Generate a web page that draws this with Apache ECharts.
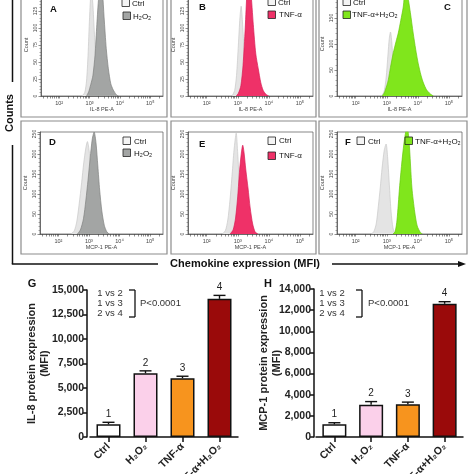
<!DOCTYPE html>
<html><head><meta charset="utf-8">
<script src="https://cdn.jsdelivr.net/npm/echarts@6/dist/echarts.min.js"></script>
<style>html,body{margin:0;padding:0;background:#fff}#c{width:474px;height:474px}</style>
</head><body><div id="c"></div>
<script>
// ---------- DATA ----------
// Flow cytometry histograms: [log10(fluorescence), count]
const ctrlA = [[2.75,0],[2.84,5],[2.9,22],[2.95,60],[3.0,115],[3.05,150],[3.1,140],[3.15,100],[3.2,60],[3.25,30],[3.3,12],[3.4,3],[3.5,0]];
const h2o2A = [[2.9,0],[2.97,6],[3.04,17],[3.11,30],[3.18,60],[3.24,105],[3.3,145],[3.36,165],[3.42,155],[3.48,115],[3.55,70],[3.62,40],[3.7,18],[3.78,9],[3.88,2],[3.95,0]];
const ctrlB = [[2.82,0],[2.9,8],[2.96,30],[3.02,75],[3.07,115],[3.11,132],[3.15,110],[3.2,70],[3.25,35],[3.3,12],[3.4,3],[3.5,0]];
const tnfB  = [[2.95,0],[3.02,4],[3.1,15],[3.17,45],[3.24,100],[3.3,155],[3.36,175],[3.42,155],[3.5,105],[3.58,62],[3.66,40],[3.74,20],[3.82,8],[3.92,2],[4.0,0]];
const ctrlC = [[2.85,0],[2.92,10],[2.98,35],[3.04,80],[3.08,110],[3.12,123],[3.16,105],[3.2,70],[3.26,35],[3.32,10],[3.4,0]];
const bothC = [[2.85,0],[2.92,6],[3.0,20],[3.05,31],[3.12,55],[3.21,83],[3.3,105],[3.37,121],[3.45,145],[3.53,171],[3.6,205],[3.68,190],[3.76,160],[3.85,121],[3.93,90],[4.01,63],[4.1,40],[4.18,25],[4.28,12],[4.4,4],[4.5,0]];
const ctrlD = [[2.42,0],[2.52,8],[2.6,30],[2.68,75],[2.76,128],[2.83,178],[2.9,216],[2.95,231],[3.0,212],[3.06,165],[3.12,110],[3.2,55],[3.3,18],[3.4,4],[3.5,0]];
const h2o2D = [[2.62,0],[2.72,10],[2.82,38],[2.9,85],[2.97,135],[3.04,190],[3.11,238],[3.17,255],[3.23,228],[3.29,170],[3.35,110],[3.42,58],[3.5,22],[3.58,6],[3.66,0]];
const ctrlE = [[2.5,0],[2.6,8],[2.68,35],[2.75,85],[2.82,150],[2.88,210],[2.95,252],[3.0,200],[3.05,130],[3.12,65],[3.2,25],[3.3,6],[3.4,0]];
const tnfE  = [[2.75,0],[2.85,10],[2.93,40],[3.0,95],[3.06,160],[3.12,205],[3.16,222],[3.2,205],[3.26,160],[3.33,115],[3.4,65],[3.48,25],[3.56,5],[3.65,0]];
const ctrlF = [[2.5,0],[2.58,5],[2.66,25],[2.73,70],[2.79,115],[2.85,165],[2.92,210],[2.98,225],[3.03,190],[3.09,115],[3.14,55],[3.2,15],[3.26,3],[3.32,0]];
const bothF = [[3.2,0],[3.27,6],[3.33,35],[3.41,115],[3.48,175],[3.55,225],[3.61,255],[3.66,265],[3.72,230],[3.81,115],[3.9,55],[3.98,20],[4.08,4],[4.15,0]];

const decadeLabels = {2:'10²',3:'10³',4:'10⁴',5:'10⁵'};

// Bar charts
const barCats = ['Ctrl','H₂O₂','TNF-α','TNF-α+H₂O₂'];
const il8Vals = [1300, 6500, 6000, 14100];
const il8Err  = [200, 250, 200, 350];
const mcpVals = [1200, 3050, 3100, 12600];
const mcpErr  = [150, 300, 200, 200];
const barColors = ['#ffffff','#fbd0ea','#f7941e','#9a0a0a'];
const statLines = ['1 vs 2','1 vs 3','2 vs 4'];
const statText = 'P<0.0001';

// ---------- STYLE / LAYOUT ----------
const F = 'Liberation Sans, Arial, DejaVu Sans, sans-serif';
const CTRL_FILL = '#e4e4e4', CTRL_EDGE = '#c8c8c8';
const GRAY_FILL = '#a3a5a4', GRAY_EDGE = '#7f8180';
const RED_FILL = '#ef3168', RED_EDGE = '#d81c55';
const GREEN_FILL = '#80e61c', GREEN_EDGE = '#66c80c';

const minorTicks = [];
for (let n = 1; n <= 5; n++) for (let k = 1; k <= 9; k++) {
  const v = n + Math.log10(k);
  if (v >= 1.4 && v <= 5.42) minorTicks.push(v);
}

const histGrids = [
  {left:41, top:-6, width:122, height:102},
  {left:188, top:-6, width:125, height:102},
  {left:337, top:-8, width:125, height:104},
  {left:40, top:132, width:123, height:102},
  {left:188, top:132, width:125, height:102},
  {left:337, top:132, width:125, height:102}
];
const histYMax = [150,150,200,255,255,255];
const histYInt = [25,25,50,50,50,50];
const histXName = ['IL-8 PE-A','IL-8 PE-A','IL-8 PE-A','MCP-1 PE-A','MCP-1 PE-A','MCP-1 PE-A'];
const histSeries = [
  [ctrlA, h2o2A, GRAY_FILL, GRAY_EDGE],
  [ctrlB, tnfB, RED_FILL, RED_EDGE],
  [ctrlC, bothC, GREEN_FILL, GREEN_EDGE],
  [ctrlD, h2o2D, GRAY_FILL, GRAY_EDGE],
  [ctrlE, tnfE, RED_FILL, RED_EDGE],
  [ctrlF, bothF, GREEN_FILL, GREEN_EDGE]
];

const grids = [], xAxes = [], yAxes = [], series = [];
histGrids.forEach((g, i) => {
  grids.push(Object.assign({show:true, borderColor:'#555', borderWidth:0.7, backgroundColor:'#fff', outerBoundsMode:'none', containLabel:false}, g));
  xAxes.push({
    type:'value', gridIndex:i, min:1.4, max:5.42,
    name: histXName[i], nameLocation:'middle', nameGap:10, nameMoveOverlap:false,
    nameTextStyle:{fontSize:5.5, fontFamily:F, color:'#444'},
    axisLine:{show:true, lineStyle:{color:'#444', width:0.7}},
    axisTick:{show:true, length:2.5, lineStyle:{color:'#444', width:0.6}, customValues:minorTicks},
    axisLabel:{show:true, customValues:[2,3,4,5], fontSize:5.5, color:'#444', fontFamily:F, margin:4,
      formatter: v => decadeLabels[Math.round(v)] || ''},
    splitLine:{show:false}
  });
  yAxes.push({
    type:'value', gridIndex:i, min:0, max:histYMax[i], interval:histYInt[i],
    name:'Count', nameLocation:'middle', nameGap:12, nameMoveOverlap:false,
    nameTextStyle:{fontSize:5.5, fontFamily:F, color:'#444'},
    axisLine:{show:true, lineStyle:{color:'#444', width:0.7}},
    axisTick:{show:true, length:2.5, lineStyle:{color:'#444', width:0.6}},
    minorTick:{show:true, splitNumber:5, length:1.5, lineStyle:{color:'#555', width:0.5}},
    axisLabel:{show:true, rotate:90, fontSize:5, color:'#444', fontFamily:F, margin:3,
      formatter: v => (v === 0 ? '0' : String(v))},
    splitLine:{show:false}
  });
  const [c, t, fill, edge] = histSeries[i];
  series.push({type:'line', xAxisIndex:i, yAxisIndex:i, data:c, showSymbol:false, smooth:0.25,
    lineStyle:{color:CTRL_EDGE, width:0.7}, areaStyle:{color:CTRL_FILL, opacity:1}, z:2, silent:true});
  series.push({type:'line', xAxisIndex:i, yAxisIndex:i, data:t, showSymbol:false, smooth:0.25,
    lineStyle:{color:edge, width:0.7}, areaStyle:{color:fill, opacity:1}, z:3, silent:true});
});

// Bar chart grids
const barDefs = [
  {left:90, top:290, width:148, height:147, max:15000, interval:2500, vals:il8Vals, err:il8Err, name:'IL-8 protein expression\n(MFI)', off:3, gap:36},
  {left:316, top:289, width:147, height:148, max:14000, interval:2000, vals:mcpVals, err:mcpErr, name:'MCP-1 protein expression\n(MFI)', off:2, gap:31}
];
barDefs.forEach((b, j) => {
  const gi = 6 + j;
  grids.push({left:b.left, top:b.top, width:b.width, height:b.height, outerBoundsMode:'none', containLabel:false});
  xAxes.push({
    type:'category', gridIndex:gi, data:barCats,
    axisLine:{show:true, lineStyle:{color:'#111', width:1.5}},
    axisTick:{show:true, alignWithLabel:true, length:5, lineStyle:{color:'#111', width:1.5}},
    axisLabel:{rotate:45, fontSize:10.5, fontWeight:'bold', color:'#222', fontFamily:F, margin:8, interval:0}
  });
  yAxes.push({
    type:'value', gridIndex:gi, min:0, max:b.max, interval:b.interval, offset:b.off,
    name:b.name, nameLocation:'middle', nameGap:b.gap, nameMoveOverlap:false,
    nameTextStyle:{fontSize:11, fontWeight:'bold', color:'#222', fontFamily:F, lineHeight:13},
    axisLine:{show:true, lineStyle:{color:'#111', width:1.5}},
    axisTick:{show:true, length:4, lineStyle:{color:'#111', width:1.5}},
    axisLabel:{fontSize:10.5, fontWeight:'bold', color:'#222', fontFamily:F, margin:3,
      formatter: v => v.toLocaleString('en-US')},
    splitLine:{show:false}
  });
  series.push({
    type:'bar', xAxisIndex:gi, yAxisIndex:gi, barWidth:24,
    data: b.vals.map((v, k) => ({value:v, itemStyle:{color:barColors[k], borderColor:'#111', borderWidth:1.5}})),
    z:2, silent:true
  });
  series.push({
    type:'custom', xAxisIndex:gi, yAxisIndex:gi, z:5, silent:true,
    data: b.vals.map((v, k) => [k, v, b.err[k]]),
    encode:{x:0, y:1},
    renderItem:(params, api) => {
      const k = api.value(0), v = api.value(1), e = api.value(2);
      const base = api.coord([k, v]);
      const top = api.coord([k, v + e]);
      return {type:'group', children:[
        {type:'line', shape:{x1:base[0], y1:base[1], x2:base[0], y2:top[1]}, style:{stroke:'#111', lineWidth:1.4}},
        {type:'line', shape:{x1:base[0]-6, y1:top[1], x2:base[0]+6, y2:top[1]}, style:{stroke:'#111', lineWidth:1.4}},
        {type:'text', x:base[0], y:top[1]-3, style:{text:String(k+1), align:'center', verticalAlign:'bottom',
          font:'10px ' + F, fill:'#222'}}
      ]};
    }
  });
});

// ---------- Annotations ----------
const gfx = [];
function rect(x,y,w,h){ gfx.push({type:'rect', shape:{x,y,width:w,height:h}, style:{fill:null, stroke:'#8c8c8c', lineWidth:1.2}, z:0}); }
rect(21,-5,146,122); rect(171,-5,145,122); rect(319,-5,148,122);
rect(21,121,146,133); rect(171,121,145,133); rect(319,121,148,133);

function txt(text, x, y, font, opts){ gfx.push(Object.assign({type:'text', x, y, style:Object.assign({text, font, fill:'#111', align:'left', verticalAlign:'middle'}, opts||{}), z:20})); }
function box(x,y,fill){ gfx.push({type:'rect', shape:{x,y,width:7.5,height:7.5}, style:{fill, stroke:'#222', lineWidth:0.8}, z:20}); }

// panel letters
const PL = 'bold 9.5px ' + F;
txt('A', 50, 9, PL); txt('B', 199, 7, PL); txt('C', 444, 7, PL);
txt('D', 49, 142, PL); txt('E', 199, 144, PL); txt('F', 345, 142, PL);

const LF = '8px ' + F;
// A legend
box(122,-1,'#f4f4f4'); txt('Ctrl',132,4,LF);
box(123,12,GRAY_FILL); txt('H₂O₂',133,17,LF);
// B
box(268,-2,'#f4f4f4'); txt('Ctrl',278,3,LF);
box(268,11,RED_FILL); txt('TNF-α',279,15,LF);
// C
box(343,-2,'#f4f4f4'); txt('Ctrl',353,3,LF);
box(343,11,GREEN_FILL); txt('TNF-α+H₂O₂',352,15,LF);
// D
box(123,137,'#f4f4f4'); txt('Ctrl',134,142,LF);
box(123,149,GRAY_FILL); txt('H₂O₂',134,154,LF);
// E
box(268,137,'#f4f4f4'); txt('Ctrl',279,141,LF);
box(268,152,RED_FILL); txt('TNF-α',279,156,LF);
// F
box(357,137,'#f4f4f4'); txt('Ctrl',368,142,LF);
box(405,137,GREEN_FILL); txt('TNF-α+H₂O₂',415,142,LF);

// Counts bracket and MFI arrow
function line(x1,y1,x2,y2,w){ gfx.push({type:'line', shape:{x1,y1,x2,y2}, style:{stroke:'#111', lineWidth:w||1.5}, z:20}); }
line(12.5,0,12.5,82); line(12.5,145,12.5,264); line(11.8,264,158,264);
line(332,264,459,264);
gfx.push({type:'polygon', shape:{points:[[458,261],[466,264],[458,267]]}, style:{fill:'#111'}, z:20});
gfx.push({type:'text', x:10, y:113, rotation:Math.PI/2, style:{text:'Counts', font:'bold 11px ' + F, fill:'#111', align:'center', verticalAlign:'middle'}, z:20});
txt('Chemokine expression (MFI)', 245, 264, 'bold 11px ' + F, {align:'center'});

// G / H labels and stats brackets
txt('G', 32, 284, 'bold 11px ' + F, {align:'center'});
txt('H', 268, 284, 'bold 11px ' + F, {align:'center'});
const SF = '9.5px ' + F;
[[110,135,140],[332,362,368]].forEach(([cx, bx, px]) => {
  statLines.forEach((s, k) => txt(s, cx, 293 + k*10, SF, {align:'center', fill:'#333'}));
  line(bx,290,bx,317,1.3); line(bx-6,290,bx,290,1.3); line(bx-6,317,bx,317,1.3);
  txt(statText, px, 303, SF, {fill:'#333'});
});

const chart = echarts.init(document.getElementById('c'), null, {renderer:'canvas'});
chart.setOption({
  animation:false,
  backgroundColor:'#fff',
  grid:grids, xAxis:xAxes, yAxis:yAxes, series:series,
  graphic:{elements:gfx}
});
</script></body></html>
